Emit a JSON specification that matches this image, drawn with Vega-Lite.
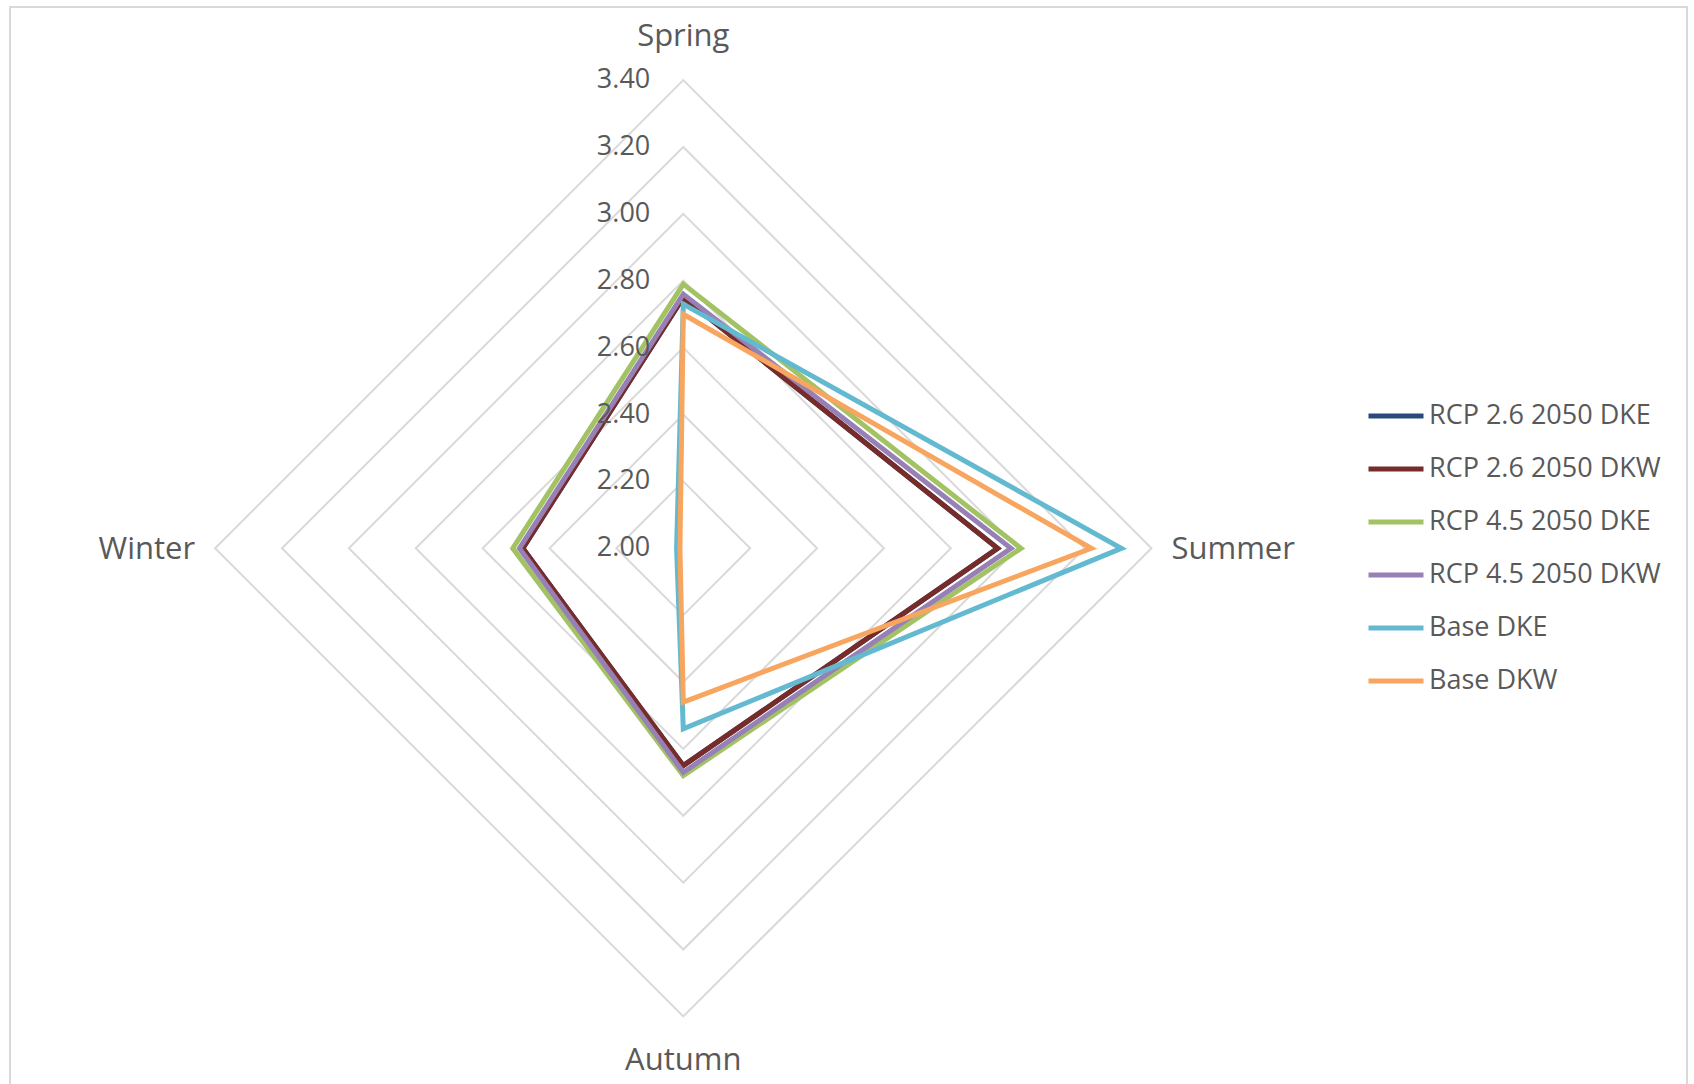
{
  "$schema": "https://vega.github.io/schema/vega-lite/v6.json",
  "width": 1677,
  "height": 1077,
  "autosize": {"type": "none"},
  "padding": {"left": 10, "top": 7, "right": 7, "bottom": 0},
  "background": "white",
  "config": {
    "font": "Open Sans",
    "view": {"stroke": "#D9D9D9", "strokeWidth": 2, "strokeDash": [2754, 1677, 1077]}
  },
  "datasets": {
    "seasonal": [
      {"series": "RCP 2.6 2050 DKE", "season": "Spring", "value": 2.75},
      {"series": "RCP 2.6 2050 DKE", "season": "Summer", "value": 2.94},
      {"series": "RCP 2.6 2050 DKE", "season": "Autumn", "value": 2.65},
      {"series": "RCP 2.6 2050 DKE", "season": "Winter", "value": 2.48},
      {"series": "RCP 2.6 2050 DKW", "season": "Spring", "value": 2.75},
      {"series": "RCP 2.6 2050 DKW", "season": "Summer", "value": 2.94},
      {"series": "RCP 2.6 2050 DKW", "season": "Autumn", "value": 2.65},
      {"series": "RCP 2.6 2050 DKW", "season": "Winter", "value": 2.48},
      {"series": "RCP 4.5 2050 DKE", "season": "Spring", "value": 2.79},
      {"series": "RCP 4.5 2050 DKE", "season": "Summer", "value": 3.01},
      {"series": "RCP 4.5 2050 DKE", "season": "Autumn", "value": 2.68},
      {"series": "RCP 4.5 2050 DKE", "season": "Winter", "value": 2.51},
      {"series": "RCP 4.5 2050 DKW", "season": "Spring", "value": 2.76},
      {"series": "RCP 4.5 2050 DKW", "season": "Summer", "value": 2.98},
      {"series": "RCP 4.5 2050 DKW", "season": "Autumn", "value": 2.67},
      {"series": "RCP 4.5 2050 DKW", "season": "Winter", "value": 2.49},
      {"series": "Base DKE", "season": "Spring", "value": 2.73},
      {"series": "Base DKE", "season": "Summer", "value": 3.31},
      {"series": "Base DKE", "season": "Autumn", "value": 2.54},
      {"series": "Base DKE", "season": "Winter", "value": 2.02},
      {"series": "Base DKW", "season": "Spring", "value": 2.70},
      {"series": "Base DKW", "season": "Summer", "value": 3.22},
      {"series": "Base DKW", "season": "Autumn", "value": 2.46},
      {"series": "Base DKW", "season": "Winter", "value": 2.01}
    ],
    "rings": [
      {"level": 2.2, "season": ["Spring", "Summer", "Autumn", "Winter"]},
      {"level": 2.4, "season": ["Spring", "Summer", "Autumn", "Winter"]},
      {"level": 2.6, "season": ["Spring", "Summer", "Autumn", "Winter"]},
      {"level": 2.8, "season": ["Spring", "Summer", "Autumn", "Winter"]},
      {"level": 3.0, "season": ["Spring", "Summer", "Autumn", "Winter"]},
      {"level": 3.2, "season": ["Spring", "Summer", "Autumn", "Winter"]},
      {"level": 3.4, "season": ["Spring", "Summer", "Autumn", "Winter"]}
    ],
    "ticks": [
      {"level": 2.0}, {"level": 2.2}, {"level": 2.4}, {"level": 2.6},
      {"level": 2.8}, {"level": 3.0}, {"level": 3.2}, {"level": 3.4}
    ],
    "seasons": [
      {"season": "Spring", "outer": 3.4},
      {"season": "Summer", "outer": 3.4},
      {"season": "Autumn", "outer": 3.4},
      {"season": "Winter", "outer": 3.4}
    ]
  },
  "layer": [
    {
      "data": {"name": "rings"},
      "transform": [
        {"flatten": ["season"]},
        {"calculate": "datum.season === 'Summer' ? datum.level - 2 : datum.season === 'Winter' ? 2 - datum.level : 0", "as": "px"},
        {"calculate": "datum.season === 'Spring' ? datum.level - 2 : datum.season === 'Autumn' ? 2 - datum.level : 0", "as": "py"},
        {"calculate": "indexof(['Spring','Summer','Autumn','Winter'], datum.season)", "as": "idx"}
      ],
      "mark": {"type": "line", "interpolate": "linear-closed", "color": "#D9D9D9", "strokeWidth": 2},
      "encoding": {
        "x": {"field": "px", "type": "quantitative", "axis": null, "scale": {"domain": [-2.0134, 3.0015], "nice": false, "zero": false}},
        "y": {"field": "py", "type": "quantitative", "axis": null, "scale": {"domain": [-1.602, 1.6187], "nice": false, "zero": false}},
        "detail": {"field": "level", "type": "nominal"},
        "order": {"field": "idx", "type": "quantitative"}
      }
    },
    {
      "data": {"name": "seasonal"},
      "transform": [
        {"calculate": "datum.season === 'Summer' ? datum.value - 2 : datum.season === 'Winter' ? 2 - datum.value : 0", "as": "px"},
        {"calculate": "datum.season === 'Spring' ? datum.value - 2 : datum.season === 'Autumn' ? 2 - datum.value : 0", "as": "py"},
        {"calculate": "indexof(['Spring','Summer','Autumn','Winter'], datum.season)", "as": "idx"}
      ],
      "mark": {"type": "line", "interpolate": "linear-closed", "strokeWidth": 5, "strokeJoin": "miter"},
      "encoding": {
        "x": {"field": "px", "type": "quantitative", "axis": null, "scale": {"domain": [-2.0134, 3.0015], "nice": false, "zero": false}},
        "y": {"field": "py", "type": "quantitative", "axis": null, "scale": {"domain": [-1.602, 1.6187], "nice": false, "zero": false}},
        "order": {"field": "idx", "type": "quantitative"},
        "color": {
          "field": "series",
          "type": "nominal",
          "scale": {
            "domain": ["RCP 2.6 2050 DKE", "RCP 2.6 2050 DKW", "RCP 4.5 2050 DKE", "RCP 4.5 2050 DKW", "Base DKE", "Base DKW"],
            "range": ["#2A4A7B", "#772C2A", "#A2C263", "#9780B5", "#63BAD0", "#F8A55F"]
          },
          "legend": {
            "title": null,
            "orient": "none",
            "legendX": 1356,
            "legendY": 379,
            "padding": 0,
            "symbolType": "stroke",
            "symbolSize": 3025,
            "symbolStrokeWidth": 5,
            "labelFontSize": 27,
            "labelColor": "#595959",
            "labelOffset": 3,
            "labelLimit": 400,
            "rowPadding": 10
          }
        }
      }
    },
    {
      "data": {"name": "ticks"},
      "transform": [
        {"calculate": "0", "as": "px"},
        {"calculate": "datum.level - 2", "as": "py"}
      ],
      "mark": {"type": "text", "align": "right", "baseline": "middle", "dx": -33, "fontSize": 27, "color": "#595959"},
      "encoding": {
        "x": {"field": "px", "type": "quantitative", "axis": null, "scale": {"domain": [-2.0134, 3.0015], "nice": false, "zero": false}},
        "y": {"field": "py", "type": "quantitative", "axis": null, "scale": {"domain": [-1.602, 1.6187], "nice": false, "zero": false}},
        "text": {"field": "level", "type": "quantitative", "format": ".2f"}
      }
    },
    {
      "data": {"name": "seasons"},
      "transform": [
        {"filter": "datum.season === 'Spring'"},
        {"calculate": "0", "as": "px"},
        {"calculate": "datum.outer - 2", "as": "py"}
      ],
      "mark": {"type": "text", "align": "center", "baseline": "alphabetic", "dy": -34, "fontSize": 31, "color": "#595959"},
      "encoding": {
        "x": {"field": "px", "type": "quantitative", "axis": null, "scale": {"domain": [-2.0134, 3.0015], "nice": false, "zero": false}},
        "y": {"field": "py", "type": "quantitative", "axis": null, "scale": {"domain": [-1.602, 1.6187], "nice": false, "zero": false}},
        "text": {"field": "season", "type": "nominal"}
      }
    },
    {
      "data": {"name": "seasons"},
      "transform": [
        {"filter": "datum.season === 'Autumn'"},
        {"calculate": "0", "as": "px"},
        {"calculate": "2 - datum.outer", "as": "py"}
      ],
      "mark": {"type": "text", "align": "center", "baseline": "alphabetic", "dy": 54, "fontSize": 31, "color": "#595959"},
      "encoding": {
        "x": {"field": "px", "type": "quantitative", "axis": null, "scale": {"domain": [-2.0134, 3.0015], "nice": false, "zero": false}},
        "y": {"field": "py", "type": "quantitative", "axis": null, "scale": {"domain": [-1.602, 1.6187], "nice": false, "zero": false}},
        "text": {"field": "season", "type": "nominal"}
      }
    },
    {
      "data": {"name": "seasons"},
      "transform": [
        {"filter": "datum.season === 'Summer'"},
        {"calculate": "datum.outer - 2", "as": "px"},
        {"calculate": "0", "as": "py"}
      ],
      "mark": {"type": "text", "align": "left", "baseline": "alphabetic", "dx": 20, "dy": 11, "fontSize": 31, "color": "#595959"},
      "encoding": {
        "x": {"field": "px", "type": "quantitative", "axis": null, "scale": {"domain": [-2.0134, 3.0015], "nice": false, "zero": false}},
        "y": {"field": "py", "type": "quantitative", "axis": null, "scale": {"domain": [-1.602, 1.6187], "nice": false, "zero": false}},
        "text": {"field": "season", "type": "nominal"}
      }
    },
    {
      "data": {"name": "seasons"},
      "transform": [
        {"filter": "datum.season === 'Winter'"},
        {"calculate": "2 - datum.outer", "as": "px"},
        {"calculate": "0", "as": "py"}
      ],
      "mark": {"type": "text", "align": "right", "baseline": "alphabetic", "dx": -20, "dy": 11, "fontSize": 31, "color": "#595959"},
      "encoding": {
        "x": {"field": "px", "type": "quantitative", "axis": null, "scale": {"domain": [-2.0134, 3.0015], "nice": false, "zero": false}},
        "y": {"field": "py", "type": "quantitative", "axis": null, "scale": {"domain": [-1.602, 1.6187], "nice": false, "zero": false}},
        "text": {"field": "season", "type": "nominal"}
      }
    }
  ]
}
